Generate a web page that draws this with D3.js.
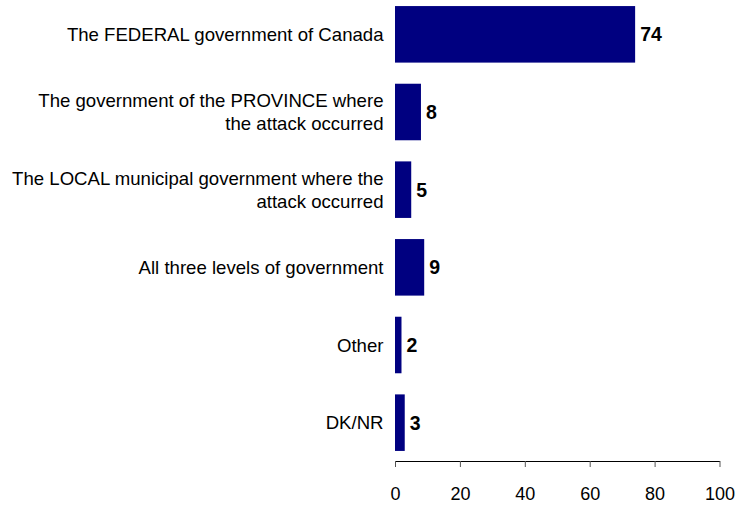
<!DOCTYPE html>
<html>
<head>
<meta charset="utf-8">
<script src="https://cdn.jsdelivr.net/npm/d3@7"></script>
<style>
  html, body { margin: 0; padding: 0; background: #fff; }
  svg { display: block; font-family: Arial, "Liberation Sans", sans-serif; }
</style>
</head>
<body>
<svg id="chart" width="739" height="506"></svg>
<script>
// Survey responses: which level of government should be responsible
const categories = [
  ["The FEDERAL government of Canada"],
  ["The government of the PROVINCE where", "the attack occurred"],
  ["The LOCAL municipal government where the", "attack occurred"],
  ["All three levels of government"],
  ["Other"],
  ["DK/NR"]
];
const values = [74, 8, 5, 9, 2, 3];
const xTicks = [0, 20, 40, 60, 80, 100];

const svg = d3.select("#chart");
const plotLeft = 395, plotRight = 719.5, plotTop = -4.5, plotBottom = 461.5;

const x = d3.scaleLinear().domain([0, 100]).range([plotLeft, plotRight]);
const idx = d3.range(categories.length);
const y = d3.scaleBand().domain(idx).range([plotTop, plotBottom])
  .paddingInner(0.272).paddingOuter(0.136);

// bars
svg.append("g").selectAll("rect").data(idx).join("rect")
  .attr("x", x(0))
  .attr("y", i => y(i))
  .attr("width", i => x(values[i]) - x(0))
  .attr("height", y.bandwidth())
  .attr("fill", "#000080");

// value labels
svg.append("g").selectAll("text").data(idx).join("text")
  .attr("x", i => x(values[i]) + 5)
  .attr("y", i => y(i) + y.bandwidth() / 2)
  .attr("dy", "0.36em")
  .attr("font-size", 19.5)
  .attr("font-weight", "bold")
  .attr("fill", "#000")
  .text(i => values[i]);

// category labels (right-aligned, possibly two lines)
const lineH = 22.7;
const labels = svg.append("g").selectAll("text").data(idx).join("text")
  .attr("text-anchor", "end")
  .attr("font-size", 18.6)
  .attr("fill", "#000");
labels.each(function(i) {
  const lines = categories[i];
  const cy = y(i) + y.bandwidth() / 2;
  const start = cy - (lines.length - 1) * lineH / 2;
  d3.select(this).selectAll("tspan").data(lines).join("tspan")
    .attr("x", 383.5)
    .attr("y", (d, k) => start + k * lineH)
    .attr("dy", "0.36em")
    .text(d => d);
});

// x axis
const axis = svg.append("g")
  .attr("transform", `translate(0,${plotBottom - 0.5})`)
  .call(d3.axisBottom(x).tickValues(xTicks).tickSize(6).tickPadding(20).tickSizeOuter(0));
axis.select(".domain").attr("stroke", "#000");
axis.selectAll(".tick line").attr("stroke", "#555");
axis.selectAll(".tick text")
  .attr("font-size", 18)
  .attr("font-family", "Arial, 'Liberation Sans', sans-serif")
  .attr("fill", "#000");
</script>
</body>
</html>
